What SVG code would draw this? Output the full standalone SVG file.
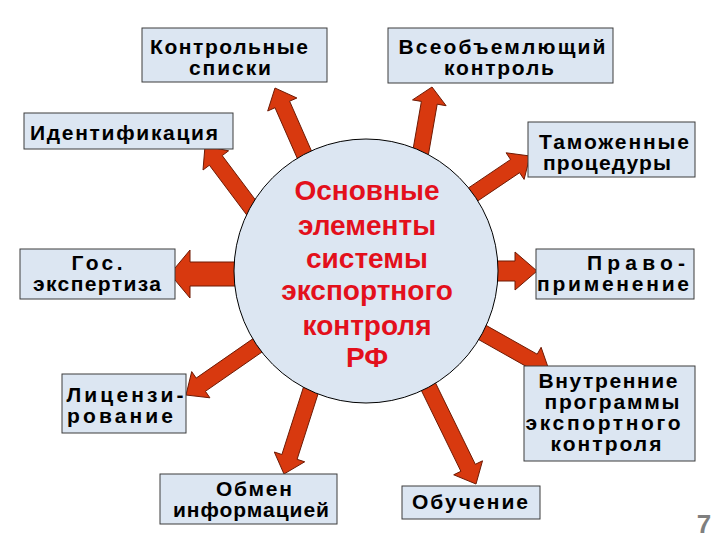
<svg xmlns="http://www.w3.org/2000/svg" width="720" height="540" viewBox="0 0 720 540">
<style>
.box{fill:#dce6f2;stroke:#3c3c3c;stroke-width:1}
.arr{fill:#d8390f;stroke:#6e1a04;stroke-width:1;stroke-linejoin:miter}
.t{font-family:"Liberation Sans",Arial,sans-serif;font-weight:bold;font-size:21px;fill:#000;text-anchor:middle}
.c{font-family:"Liberation Sans",Arial,sans-serif;font-weight:bold;font-size:28px;fill:#e3101c;text-anchor:middle}
</style>
<rect width="720" height="540" fill="#fff"/>
<g id="connectors">
<polygon class="arr" points="341.3,218.8 289.6,101.2 296.9,98 275,88 267.7,111 275,107.7 326.7,225.2"/>
<polygon class="arr" points="417.6,216.6 437.2,104.2 446.1,105.7 432,87 412.5,99.9 421.4,101.4 401.8,213.8"/>
<polygon class="arr" points="301.4,261.2 222.2,155.6 228.6,150.8 205,146 203,170 209.4,165.2 288.6,270.8"/>
<polygon class="arr" points="410,246.6 519.6,172.7 524.1,179.4 530,156 506.1,152.8 510.6,159.5 401,233.4"/>
<polygon class="arr" points="440,261 515,261 515,252 537,271 515,290 515,281 440,281"/>
<polygon class="arr" points="405.9,298.6 529.4,368.2 525.5,375.1 549,370 541.1,347.3 537.2,354.2 413.7,284.6"/>
<polygon class="arr" points="389.6,325.5 460.9,471.3 453.7,474.8 476,484 482.5,460.8 475.3,464.3 404,318.5"/>
<polygon class="arr" points="331.3,300.2 281.9,454.5 274.3,452 284,474 304.7,461.8 297.1,459.3 346.5,305"/>
<polygon class="arr" points="329.2,285.8 196.2,378.1 191.7,371.6 186,395 209.9,397.8 205.4,391.3 338.4,299"/>
<polygon class="arr" points="300,262 190,262 190,250 170,274 190,298 190,286 300,286"/>
</g>
<g id="center">
<circle cx="366" cy="271" r="132" fill="#dce6f2" stroke="#000" stroke-width="1"/>
<text class="c" x="367" y="200">Основные</text>
<text class="c" x="367" y="235">элементы</text>
<text class="c" x="367" y="268">системы</text>
<text class="c" x="367" y="300">экспортного</text>
<text class="c" x="367" y="335">контроля</text>
<text class="c" x="367" y="367">РФ</text>
</g>
<g id="n1"><rect class="box" x="142" y="28" width="185" height="54"/>
<text class="t" x="229" y="54" textLength="158" lengthAdjust="spacing">Контрольные</text>
<text class="t" x="230" y="75" textLength="82" lengthAdjust="spacing">списки</text></g>
<g id="n2"><rect class="box" x="388" y="28" width="225" height="55"/>
<text class="t" x="502" y="54" textLength="207" lengthAdjust="spacing">Всеобъемлющий</text>
<text class="t" x="499" y="75" textLength="110" lengthAdjust="spacing">контроль</text></g>
<g id="n3"><rect class="box" x="24" y="113" width="209" height="36"/>
<text class="t" x="124" y="140" textLength="188" lengthAdjust="spacing">Идентификация</text></g>
<g id="n4"><rect class="box" x="528" y="122" width="167" height="55"/>
<text class="t" x="614" y="149" textLength="150" lengthAdjust="spacing">Таможенные</text>
<text class="t" x="607" y="170" textLength="128" lengthAdjust="spacing">процедуры</text></g>
<g id="n5"><rect class="box" x="20" y="249" width="155" height="50"/>
<text class="t" x="97" y="270" textLength="51" lengthAdjust="spacing">Гос.</text>
<text class="t" x="97" y="291" textLength="128" lengthAdjust="spacing">экспертиза</text></g>
<g id="n6"><rect class="box" x="536" y="249" width="158" height="50"/>
<text class="t" x="636" y="270" textLength="98" lengthAdjust="spacing">Право-</text>
<text class="t" x="613" y="291" textLength="152" lengthAdjust="spacing">применение</text></g>
<g id="n7"><rect class="box" x="62" y="374" width="124" height="59"/>
<text class="t" x="125" y="402" textLength="117" lengthAdjust="spacing">Лицензи-</text>
<text class="t" x="120" y="423" textLength="106" lengthAdjust="spacing">рование</text></g>
<g id="n8"><rect class="box" x="524" y="366" width="171" height="95"/>
<text class="t" x="608" y="388" textLength="139" lengthAdjust="spacing">Внутренние</text>
<text class="t" x="612" y="409" textLength="135" lengthAdjust="spacing">программы</text>
<text class="t" x="603" y="430" textLength="155" lengthAdjust="spacing">экспортного</text>
<text class="t" x="606" y="451" textLength="111" lengthAdjust="spacing">контроля</text></g>
<g id="n9"><rect class="box" x="160" y="474" width="177" height="50"/>
<text class="t" x="254" y="496" textLength="76" lengthAdjust="spacing">Обмен</text>
<text class="t" x="251" y="517" textLength="156" lengthAdjust="spacing">информацией</text></g>
<g id="n10"><rect class="box" x="402" y="486" width="138" height="33"/>
<text class="t" x="470" y="509" textLength="116" lengthAdjust="spacing">Обучение</text></g>
<text x="704" y="533" font-family="Liberation Sans,Arial,sans-serif" font-weight="bold" font-size="26" fill="#7f7f7f" text-anchor="middle">7</text>
</svg>
